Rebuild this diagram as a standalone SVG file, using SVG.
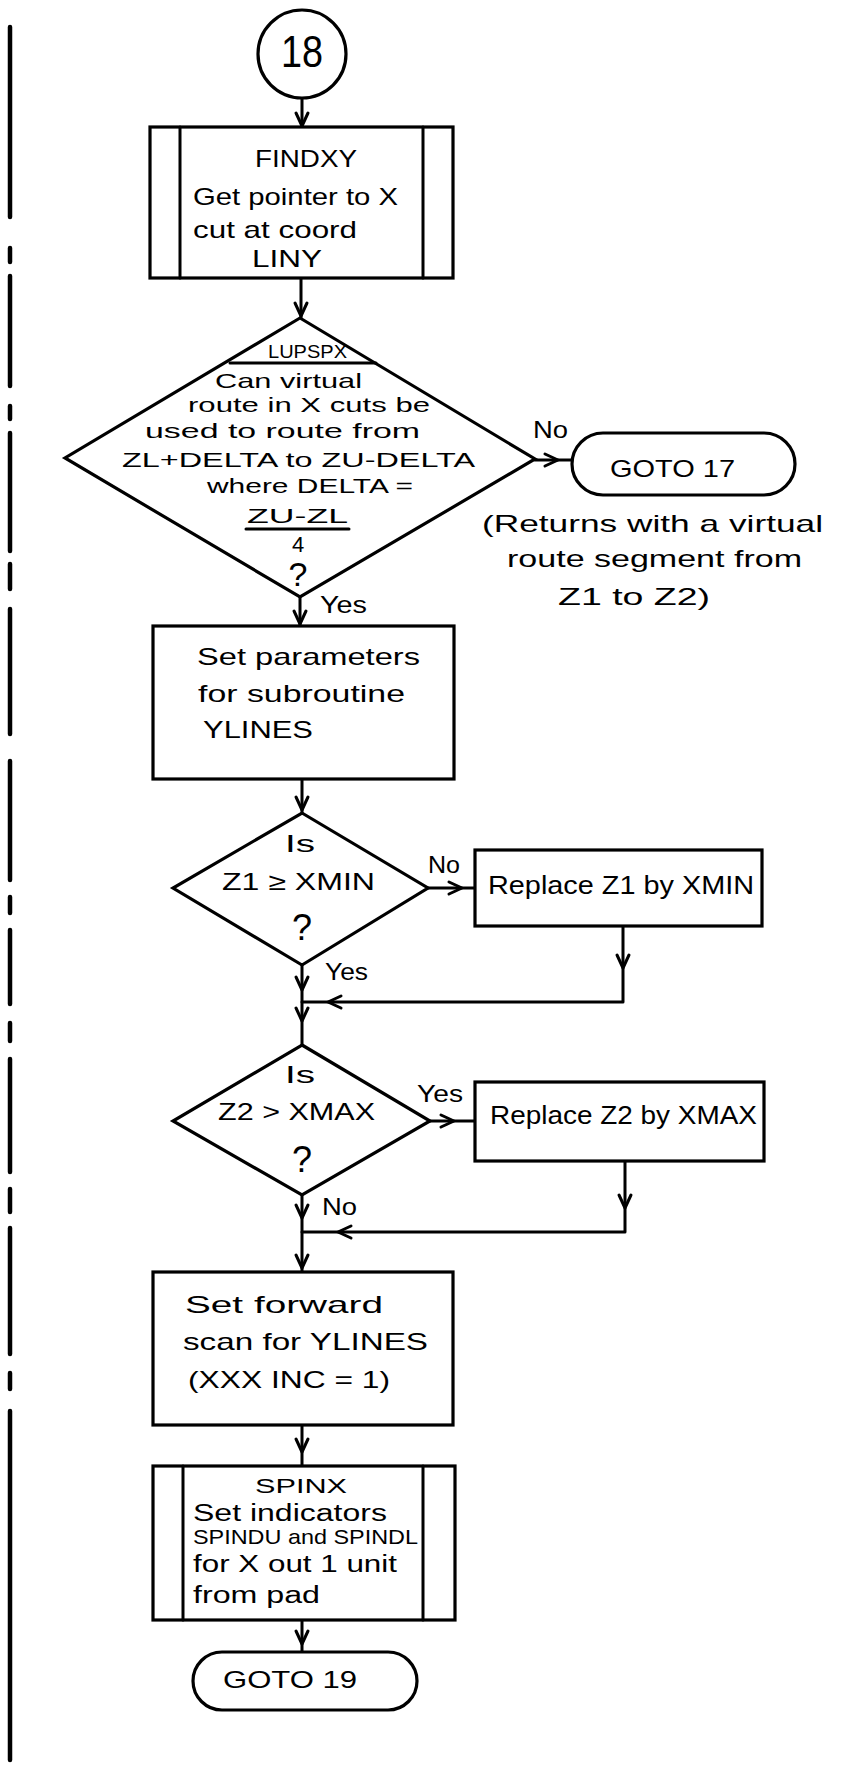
<svg xmlns="http://www.w3.org/2000/svg" xmlns:xlink="http://www.w3.org/1999/xlink" width="864" height="1768" viewBox="0 0 864 1768">
  <style>
    .ln { fill: none; stroke: #000; stroke-width: 3; stroke-linejoin: round; stroke-linecap: round; }
    .bx { fill: #fff; stroke: #000; stroke-width: 3.2; }
    .bar { stroke: #000; stroke-width: 4.5; stroke-linecap: round; }
    .t { font-family: "Liberation Sans", "DejaVu Sans", sans-serif; fill: #000; font-size: 24px; }
    .s { font-size: 21px; }
    .q { font-size: 36px; }
    .m { text-anchor: middle; }
  </style>
  <defs>
    <!-- open V arrowhead, tip at origin, pointing down -->
    <path id="ah" class="ln" d="M-6,-13 L0,0 L6,-13"/>
  </defs>
  <rect width="864" height="1768" fill="#fff"/>

  <!-- change bar in the left margin -->
  <g id="margin-bar">
    <line class="bar" x1="10" y1="27" x2="10" y2="217"/>
    <line class="bar" x1="10" y1="248" x2="10" y2="262"/>
    <line class="bar" x1="10" y1="276" x2="10" y2="386"/>
    <line class="bar" x1="10" y1="406" x2="10" y2="419"/>
    <line class="bar" x1="10" y1="433" x2="10" y2="551"/>
    <line class="bar" x1="10" y1="564" x2="10" y2="589"/>
    <line class="bar" x1="10" y1="609" x2="10" y2="734"/>
    <line class="bar" x1="10" y1="761" x2="10" y2="880"/>
    <line class="bar" x1="10" y1="897" x2="10" y2="913"/>
    <line class="bar" x1="10" y1="930" x2="10" y2="1004"/>
    <line class="bar" x1="10" y1="1023" x2="10" y2="1041"/>
    <line class="bar" x1="10" y1="1059" x2="10" y2="1172"/>
    <line class="bar" x1="10" y1="1189" x2="10" y2="1212"/>
    <line class="bar" x1="10" y1="1228" x2="10" y2="1354"/>
    <line class="bar" x1="10" y1="1373" x2="10" y2="1389"/>
    <line class="bar" x1="10" y1="1411" x2="10" y2="1760"/>
  </g>

  <!-- connectors -->
  <g id="connectors">
    <line class="ln" x1="302" y1="98" x2="302" y2="127"/>
    <use xlink:href="#ah" href="#ah" transform="translate(302,126)"/>

    <line class="ln" x1="301" y1="278" x2="301" y2="318"/>
    <use xlink:href="#ah" href="#ah" transform="translate(301,316)"/>

    <line class="ln" x1="535" y1="460" x2="572" y2="460"/>
    <use xlink:href="#ah" href="#ah" transform="translate(558,460) rotate(-90)"/>

    <line class="ln" x1="300" y1="597" x2="300" y2="626"/>
    <use xlink:href="#ah" href="#ah" transform="translate(300,624)"/>

    <line class="ln" x1="302" y1="779" x2="302" y2="813"/>
    <use xlink:href="#ah" href="#ah" transform="translate(302,810)"/>

    <line class="ln" x1="428" y1="888" x2="475" y2="888"/>
    <use xlink:href="#ah" href="#ah" transform="translate(462,888) rotate(-90)"/>

    <line class="ln" x1="302" y1="965" x2="302" y2="1045"/>
    <use xlink:href="#ah" href="#ah" transform="translate(302,990)"/>
    <use xlink:href="#ah" href="#ah" transform="translate(302,1021)"/>

    <polyline class="ln" points="623,926 623,1002 302,1002"/>
    <use xlink:href="#ah" href="#ah" transform="translate(623,968)"/>
    <use xlink:href="#ah" href="#ah" transform="translate(328,1002) rotate(90)"/>

    <line class="ln" x1="430" y1="1121" x2="475" y2="1121"/>
    <use xlink:href="#ah" href="#ah" transform="translate(454,1121) rotate(-90)"/>

    <line class="ln" x1="302" y1="1195" x2="302" y2="1272"/>
    <use xlink:href="#ah" href="#ah" transform="translate(302,1218)"/>
    <use xlink:href="#ah" href="#ah" transform="translate(302,1268)"/>

    <polyline class="ln" points="625,1161 625,1232 302,1232"/>
    <use xlink:href="#ah" href="#ah" transform="translate(625,1208)"/>
    <use xlink:href="#ah" href="#ah" transform="translate(338,1232) rotate(90)"/>

    <line class="ln" x1="302" y1="1425" x2="302" y2="1466"/>
    <use xlink:href="#ah" href="#ah" transform="translate(302,1452)"/>

    <line class="ln" x1="302" y1="1620" x2="302" y2="1652"/>
    <use xlink:href="#ah" href="#ah" transform="translate(302,1644)"/>
  </g>

  <!-- entry connector 18 -->
  <g id="n18">
    <circle class="bx" cx="302" cy="54" r="44"/>
    <text class="t m" x="302" y="67" style="font-size:45px" textLength="42" lengthAdjust="spacingAndGlyphs">18</text>
  </g>

  <!-- FINDXY predefined process -->
  <g id="findxy">
    <rect class="bx" x="150" y="127" width="303" height="151"/>
    <line class="ln" x1="180" y1="127" x2="180" y2="278"/>
    <line class="ln" x1="423" y1="127" x2="423" y2="278"/>
    <text class="t" x="255" y="167" textLength="102" lengthAdjust="spacingAndGlyphs">FINDXY</text>
    <text class="t" x="193" y="205" textLength="205" lengthAdjust="spacingAndGlyphs">Get pointer to X</text>
    <text class="t" x="193" y="238" textLength="164" lengthAdjust="spacingAndGlyphs">cut at coord</text>
    <text class="t" x="252" y="267" textLength="70" lengthAdjust="spacingAndGlyphs">LINY</text>
  </g>

  <!-- LUPSPX decision -->
  <g id="lupspx">
    <polygon class="bx" points="300,318 535,459 300,597 65,458"/>
    <line class="ln" x1="230" y1="363" x2="376" y2="363"/>
    <text class="t" x="268" y="358" style="font-size:19px" textLength="79" lengthAdjust="spacingAndGlyphs">LUPSPX</text>
    <text class="t s" x="215" y="388" textLength="147" lengthAdjust="spacingAndGlyphs">Can virtual</text>
    <text class="t s" x="188" y="412" textLength="242" lengthAdjust="spacingAndGlyphs">route in X cuts be</text>
    <text class="t s" x="145" y="438" textLength="275" lengthAdjust="spacingAndGlyphs">used to route from</text>
    <text class="t s" x="122" y="467" textLength="353" lengthAdjust="spacingAndGlyphs">ZL+DELTA to ZU-DELTA</text>
    <text class="t s" x="207" y="493" textLength="206" lengthAdjust="spacingAndGlyphs">where DELTA =</text>
    <text class="t s" x="247" y="523" textLength="101" lengthAdjust="spacingAndGlyphs">ZU-ZL</text>
    <line class="ln" x1="246" y1="529" x2="349" y2="529" stroke-width="2.5"/>
    <text class="t m" x="298" y="552" style="font-size:22px">4</text>
    <text class="t m" x="298" y="586" style="font-size:34px">?</text>
    <text class="t" x="533" y="438" textLength="35" lengthAdjust="spacingAndGlyphs">No</text>
    <text class="t" x="320" y="613" textLength="47" lengthAdjust="spacingAndGlyphs">Yes</text>
  </g>

  <!-- GOTO 17 terminal -->
  <g id="goto17">
    <rect class="bx" x="572" y="433" width="223" height="62" rx="31" ry="31"/>
    <text class="t" x="610" y="477" textLength="125" lengthAdjust="spacingAndGlyphs">GOTO 17</text>
  </g>

  <!-- note on GOTO 17 -->
  <g id="note17">
    <text class="t" x="482" y="532" textLength="341" lengthAdjust="spacingAndGlyphs">(Returns with a virtual</text>
    <text class="t" x="507" y="567" textLength="295" lengthAdjust="spacingAndGlyphs">route segment from</text>
    <text class="t" x="558" y="605" textLength="152" lengthAdjust="spacingAndGlyphs">Z1 to Z2)</text>
  </g>

  <!-- set parameters -->
  <g id="setparams">
    <rect class="bx" x="153" y="626" width="301" height="153"/>
    <text class="t" x="197" y="665" textLength="223" lengthAdjust="spacingAndGlyphs">Set parameters</text>
    <text class="t" x="198" y="702" textLength="207" lengthAdjust="spacingAndGlyphs">for subroutine</text>
    <text class="t" x="203" y="738" textLength="110" lengthAdjust="spacingAndGlyphs">YLINES</text>
  </g>

  <!-- Z1 >= XMIN decision -->
  <g id="z1check">
    <polygon class="bx" points="302,813 428,888 302,965 173,888"/>
    <text class="t" x="285" y="852" textLength="30" lengthAdjust="spacingAndGlyphs">Is</text>
    <text class="t" x="222" y="890" textLength="153" lengthAdjust="spacingAndGlyphs">Z1 ≥ XMIN</text>
    <text class="t q m" x="302" y="940">?</text>
    <text class="t" x="428" y="873" textLength="32" lengthAdjust="spacingAndGlyphs">No</text>
    <text class="t" x="325" y="980" textLength="43" lengthAdjust="spacingAndGlyphs">Yes</text>
  </g>

  <!-- replace Z1 -->
  <g id="replacez1">
    <rect class="bx" x="475" y="850" width="287" height="76"/>
    <text class="t" x="488" y="894" style="font-size:25px" textLength="266" lengthAdjust="spacingAndGlyphs">Replace Z1 by XMIN</text>
  </g>

  <!-- Z2 > XMAX decision -->
  <g id="z2check">
    <polygon class="bx" points="302,1045 430,1121 302,1195 173,1121"/>
    <text class="t" x="285" y="1083" textLength="30" lengthAdjust="spacingAndGlyphs">Is</text>
    <text class="t" x="218" y="1120" textLength="157" lengthAdjust="spacingAndGlyphs">Z2 &gt; XMAX</text>
    <text class="t q m" x="302" y="1172">?</text>
    <text class="t" x="417" y="1102" textLength="46" lengthAdjust="spacingAndGlyphs">Yes</text>
    <text class="t" x="322" y="1215" textLength="35" lengthAdjust="spacingAndGlyphs">No</text>
  </g>

  <!-- replace Z2 -->
  <g id="replacez2">
    <rect class="bx" x="475" y="1082" width="289" height="79"/>
    <text class="t" x="490" y="1124" style="font-size:25px" textLength="267" lengthAdjust="spacingAndGlyphs">Replace Z2 by XMAX</text>
  </g>

  <!-- forward scan -->
  <g id="fwdscan">
    <rect class="bx" x="153" y="1272" width="300" height="153"/>
    <text class="t" x="185" y="1313" textLength="198" lengthAdjust="spacingAndGlyphs">Set forward</text>
    <text class="t" x="183" y="1350" textLength="245" lengthAdjust="spacingAndGlyphs">scan for YLINES</text>
    <text class="t" x="188" y="1388" textLength="202" lengthAdjust="spacingAndGlyphs">(XXX INC = 1)</text>
  </g>

  <!-- SPINX predefined process -->
  <g id="spinx">
    <rect class="bx" x="153" y="1466" width="302" height="154"/>
    <line class="ln" x1="183" y1="1466" x2="183" y2="1620"/>
    <line class="ln" x1="423" y1="1466" x2="423" y2="1620"/>
    <text class="t s" x="255" y="1493" textLength="92" lengthAdjust="spacingAndGlyphs">SPINX</text>
    <text class="t" x="193" y="1521" style="font-size:23px" textLength="194" lengthAdjust="spacingAndGlyphs">Set indicators</text>
    <text class="t s" x="193" y="1544" textLength="225" lengthAdjust="spacingAndGlyphs">SPINDU and SPINDL</text>
    <text class="t" x="193" y="1572" style="font-size:23px" textLength="204" lengthAdjust="spacingAndGlyphs">for X out 1 unit</text>
    <text class="t" x="193" y="1603" style="font-size:23px" textLength="127" lengthAdjust="spacingAndGlyphs">from pad</text>
  </g>

  <!-- GOTO 19 terminal -->
  <g id="goto19">
    <rect class="bx" x="193" y="1652" width="224" height="58" rx="29" ry="29"/>
    <text class="t" x="223" y="1688" textLength="134" lengthAdjust="spacingAndGlyphs">GOTO 19</text>
  </g>
</svg>
